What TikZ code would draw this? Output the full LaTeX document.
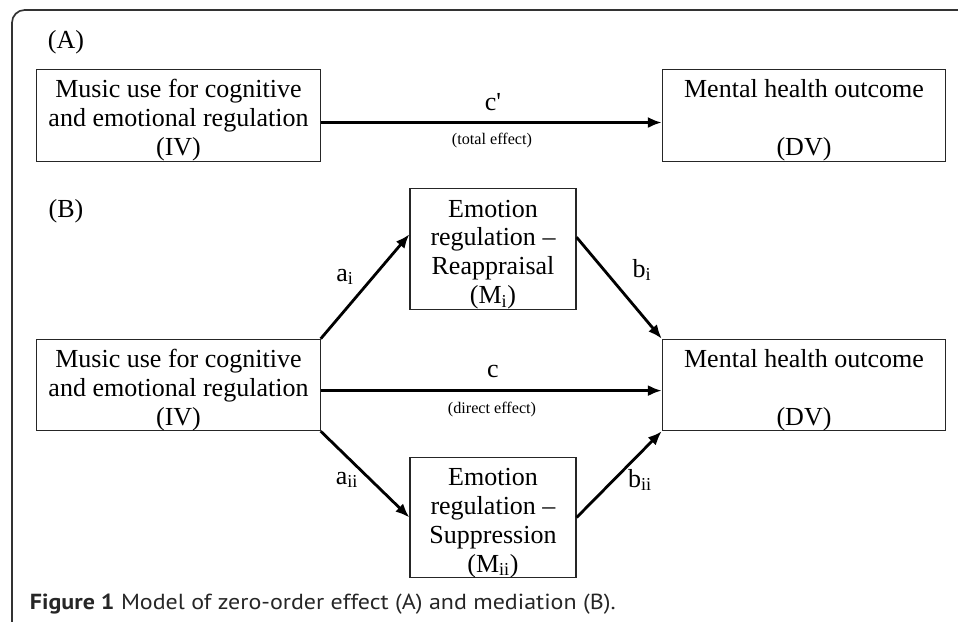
\documentclass[tikz,border=0pt]{standalone}
\usepackage{fontspec}
\setmainfont{Liberation Serif}
\newfontfamily\capfont[FakeStretch=1.1]{PT Sans}
\usetikzlibrary{arrows.meta}
\newcommand\topgap{\rule{0pt}{20pt}}
\begin{document}
\begin{tikzpicture}[x=0.025cm,y=-0.025cm,
  varbox/.style={draw,line width=0.8pt,black!85,text=black,align=center,inner sep=0pt,font=\fontsize{18.5}{20.5}\selectfont},
  bigbox/.style={varbox,minimum width=7.08cm,minimum height=2.23cm},
  medbox/.style={varbox,minimum width=4.15cm,minimum height=2.96cm},
  path/.style={line width=2pt,-{Latex[length=10pt,width=8pt]}},
  coef/.style={font=\fontsize{18.5}{22}\selectfont},
  effect/.style={font=\fontsize{11.5}{13}\selectfont}]
\useasboundingbox (0,0) rectangle (958,622);
%frame
\draw[line width=1.2pt,black!80,rounded corners=9pt](12,622)--(12,10)--(958,10);
%panel A
\node[coef](labA) at (66,42){(A)};
\node[bigbox](ivA) at (178.5,115.5){\topgap Music use for cognitive\\and emotional regulation\\(IV)};
\node[bigbox](dvA) at (804,115.5){\topgap Mental health outcome\\\mbox{}\\(DV)};
\draw[path]([yshift=-5pt]ivA.east)--([yshift=-5pt]dvA.west);
\node[coef](cA) at (493,102){c\textquotesingle};
\node[effect](totA) at (492,141){(total effect)};
%panel B
\node[coef](labB) at (66,211){(B)};
\node[bigbox](ivB) at (178.5,385){\topgap Music use for cognitive\\and emotional regulation\\(IV)};
\node[bigbox](dvB) at (804,385){\topgap Mental health outcome\\\mbox{}\\(DV)};
\node[medbox](mi) at (493,249){\topgap Emotion\\regulation --\\Reappraisal\\(M\textsubscript{i})};
\node[medbox](mii) at (493,517.5){\topgap Emotion\\regulation --\\Suppression\\(M\textsubscript{ii})};
%arrows
\draw[path]([yshift=-4pt]ivB.east)--([yshift=-4pt]dvB.west);
\draw[path](ivB.north east)--(mi.170);
\draw[path](mi.8)--(dvB.north west);
\draw[path](ivB.south east)--(mii.west);
\draw[path](mii.east)--(dvB.south west);
%coefficients
\node[coef](cB) at (493,371){c};
\node[effect](dirB) at (492,410){(direct effect)};
\node[coef](ai) at (345,277){a\textsubscript{i}};
\node[coef](bi) at (642,270){b\textsubscript{i}};
\node[coef](aii) at (347,480){a\textsubscript{ii}};
\node[coef](bii) at (640,480){b\textsubscript{ii}};
%caption
\node[anchor=west,text=black!85,font=\capfont\fontsize{15.5}{17}\selectfont](cap) at (25,604){\textbf{Figure 1} Model of zero-order effect (A) and mediation (B).};
\end{tikzpicture}
\end{document}
